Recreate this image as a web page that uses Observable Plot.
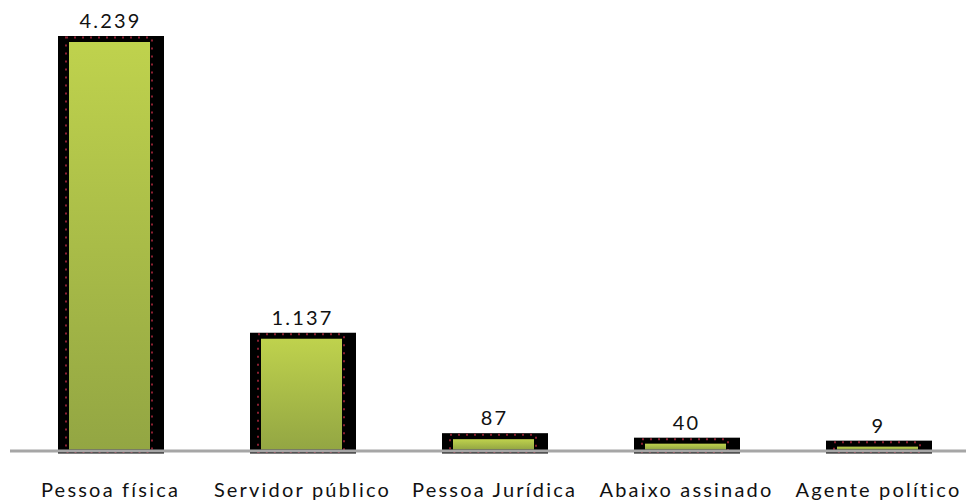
<!DOCTYPE html>
<html>
<head>
<meta charset="utf-8">
<script src="https://cdn.jsdelivr.net/npm/d3@7"></script>
<script src="https://cdn.jsdelivr.net/npm/@observablehq/plot@0.6"></script>
<style>
  html, body { margin: 0; padding: 0; background: #fff; }
  #chart svg { display: block; }
</style>
</head>
<body>
<div id="chart"></div>
<script>
const categories = ["Pessoa física", "Servidor público", "Pessoa Jurídica", "Abaixo assinado", "Agente político"];
const values = [4239, 1137, 87, 40, 9];
const valueLabels = ["4.239", "1.137", "87", "40", "9"];

const data = categories.map((c, i) => ({category: c, value: values[i], label: valueLabels[i]}));

const chart = Plot.plot({
  width: 966,
  height: 503,
  marginTop: 42,
  marginBottom: 55.5,
  marginLeft: 10,
  marginRight: 0,
  style: {background: "#fff", fontFamily: "Lato, 'Open Sans', sans-serif"},
  x: {domain: categories, range: [15, 975], paddingInner: 0.448, paddingOuter: 0.224, axis: null},
  y: {domain: [0, 4239], axis: null},
  marks: [
    Plot.rectY(data, {x: "category", y1: 0, y2: "value", fill: "#000", insetTop: -6, insetBottom: -6}),
    Plot.rectY(data, {x: "category", y1: 0, y2: "value", fill: "url(#barGrad)", insetLeft: 11, insetRight: 14, insetBottom: -2}),
    Plot.rectY(data, {x: "category", y1: 0, y2: "value", fill: "none", stroke: "#8a1f30", strokeWidth: 2, strokeDasharray: "2 6", insetLeft: 8, insetRight: 12, insetTop: -4.5, insetBottom: -4.5}),
    Plot.ruleY([0], {stroke: "#a6a6a6", strokeWidth: 3, dy: 3}),
    Plot.text(data, {x: "category", y: "value", text: "label", dy: -21, dx: -1, lineAnchor: "middle", fontSize: 20, fill: "#111"}),
    Plot.text(data, {x: "category", text: "category", frameAnchor: "bottom", dy: 42.5, dx: -1, lineAnchor: "middle", fontSize: 20, fill: "#111"})
  ]
});

const svg = d3.select(chart);
const defs = svg.insert("defs", ":first-child");
const g = defs.append("linearGradient").attr("id", "barGrad").attr("x1", 0).attr("y1", 0).attr("x2", 0).attr("y2", 1);
g.append("stop").attr("offset", "0%").attr("stop-color", "#bfd24d");
g.append("stop").attr("offset", "100%").attr("stop-color", "#93a643");
svg.selectAll("text").style("letter-spacing", "2.2px");

document.getElementById("chart").appendChild(chart);
</script>
</body>
</html>
